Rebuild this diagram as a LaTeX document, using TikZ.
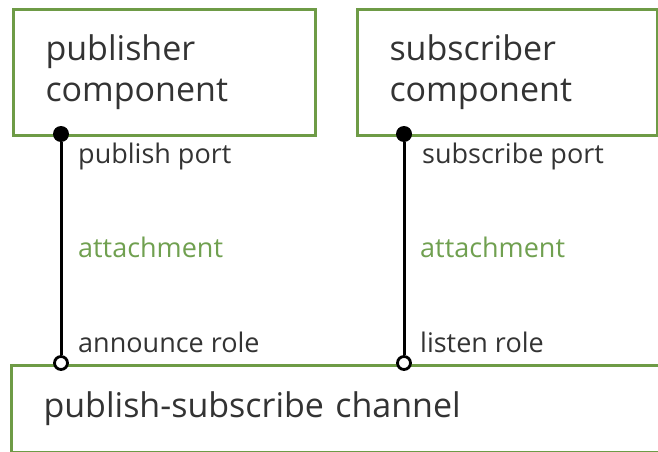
\documentclass[tikz,border=0pt]{standalone}
\usepackage{fontspec}
\setmainfont{Open Sans}
\definecolor{boxgreen}{RGB}{110,155,70}
\definecolor{labgreen}{RGB}{112,160,80}
\definecolor{txt}{RGB}{51,51,51}
\tikzset{
  comp/.style={draw=boxgreen, line width=3pt, anchor=north west, align=left,
    inner xsep=32pt, inner ysep=0pt, text=txt,
    font=\fontsize{34}{41}\selectfont},
  portdot/.style={circle, fill=black, inner sep=0pt, minimum size=16pt},
  roledot/.style={circle, draw=black, fill=white, line width=2.8pt, inner sep=0pt, minimum size=13pt},
  lab/.style={anchor=base west, inner sep=0pt, text=txt, font=\fontsize{27}{30}\selectfont},
  attlab/.style={lab, text=labgreen},
  conn/.style={line width=3pt, draw=black}
}
\begin{document}
\begin{tikzpicture}[x=1pt,y=-1pt]
\useasboundingbox (0,0) rectangle (658,452);
\node[comp, text width=238pt, minimum height=126pt] (pub) at (12,8) {publisher\\component};
\node[comp, text width=236pt, minimum height=126pt] (sub) at (356,8) {subscriber\\component};
\node[comp, text width=626pt, minimum height=87pt] (chan) at (10,364) {publish-subscribe channel};
\node[portdot] (pp) at (61,134) {};
\node[portdot] (sp) at (404,134) {};
\node[roledot] (ar) at (61,363) {};
\node[roledot] (lr) at (404,363) {};
\draw[conn] (pp) -- (ar);
\draw[conn] (sp) -- (lr);
\node[lab] (ppl) at (78,163) {publish port};
\node[lab] (spl) at (422,163) {subscribe port};
\node[attlab] (a1) at (78,257) {attachment};
\node[attlab] (a2) at (420,257) {attachment};
\node[lab] (arl) at (78,352) {announce role};
\node[lab] (lrl) at (420,352) {listen role};
\end{tikzpicture}
\end{document}
